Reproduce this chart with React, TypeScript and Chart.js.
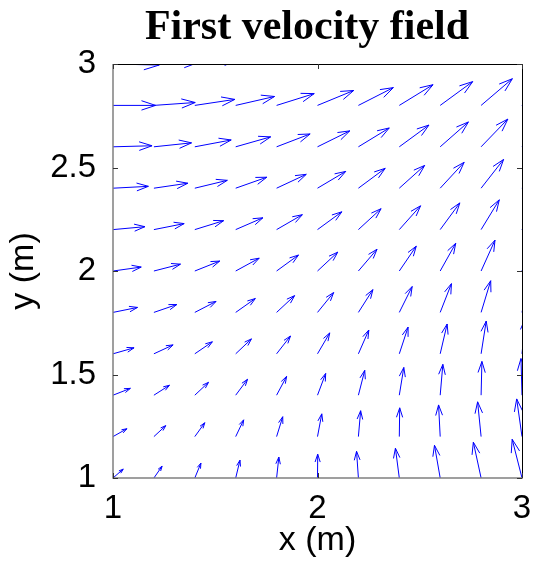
import { useEffect, useRef } from 'react';
import { Chart, registerables } from 'chart.js';

Chart.register(...registerables);

// Grid positions (m)
const X_VALUES = [1, 1.2, 1.4, 1.6, 1.8, 2, 2.2, 2.4, 2.6, 2.8, 3];
const Y_VALUES = [1, 1.2, 1.4, 1.6, 1.8, 2, 2.2, 2.4, 2.6, 2.8, 3];

// Velocity components, one row per y value (bottom row first), one column per x value
const U_ROWS = [
  [0.50, 0.40, 0.30, 0.21, 0.11, 0.01, -0.09, -0.19, -0.28, -0.38, -0.48],
  [0.68, 0.58, 0.49, 0.39, 0.30, 0.21, 0.11, 0.02, -0.08, -0.17, -0.26],
  [0.85, 0.76, 0.67, 0.58, 0.49, 0.40, 0.31, 0.22, 0.13, 0.04, -0.05],
  [1.03, 0.94, 0.86, 0.77, 0.68, 0.60, 0.51, 0.43, 0.34, 0.25, 0.17],
  [1.20, 1.12, 1.04, 0.96, 0.88, 0.79, 0.71, 0.63, 0.55, 0.47, 0.38],
  [1.38, 1.30, 1.22, 1.15, 1.07, 0.99, 0.91, 0.83, 0.76, 0.68, 0.60],
  [1.56, 1.48, 1.41, 1.33, 1.26, 1.19, 1.11, 1.04, 0.96, 0.89, 0.82],
  [1.73, 1.66, 1.59, 1.52, 1.45, 1.38, 1.31, 1.24, 1.17, 1.10, 1.03],
  [1.91, 1.84, 1.78, 1.71, 1.64, 1.58, 1.51, 1.45, 1.38, 1.31, 1.25],
  [2.08, 2.02, 1.96, 1.90, 1.84, 1.77, 1.71, 1.65, 1.59, 1.53, 1.46],
  [2.26, 2.20, 2.14, 2.09, 2.03, 1.97, 1.91, 1.85, 1.80, 1.74, 1.68],
];
const V_ROWS = [
  [0.43, 0.57, 0.72, 0.86, 1.01, 1.15, 1.29, 1.44, 1.58, 1.73, 1.87],
  [0.38, 0.53, 0.67, 0.81, 0.96, 1.10, 1.25, 1.39, 1.53, 1.68, 1.82],
  [0.33, 0.48, 0.62, 0.77, 0.91, 1.05, 1.20, 1.34, 1.49, 1.63, 1.77],
  [0.29, 0.43, 0.58, 0.72, 0.86, 1.01, 1.15, 1.29, 1.44, 1.58, 1.73],
  [0.24, 0.38, 0.53, 0.67, 0.81, 0.96, 1.10, 1.25, 1.39, 1.53, 1.68],
  [0.19, 0.33, 0.48, 0.62, 0.77, 0.91, 1.05, 1.20, 1.34, 1.49, 1.63],
  [0.14, 0.29, 0.43, 0.57, 0.72, 0.86, 1.01, 1.15, 1.29, 1.44, 1.58],
  [0.09, 0.24, 0.38, 0.53, 0.67, 0.81, 0.96, 1.10, 1.25, 1.39, 1.53],
  [0.05, 0.19, 0.33, 0.48, 0.62, 0.77, 0.91, 1.05, 1.20, 1.34, 1.49],
  [0.00, 0.14, 0.29, 0.43, 0.57, 0.72, 0.86, 1.00, 1.15, 1.29, 1.44],
  [-0.05, 0.09, 0.24, 0.38, 0.52, 0.67, 0.81, 0.96, 1.10, 1.25, 1.39],
];

const X_TICKS = [1, 2, 3];
const Y_TICKS = [1, 1.5, 2, 2.5, 3];

const TITLE = 'First velocity field';
const X_LABEL = 'x (m)';
const Y_LABEL = 'y (m)';

const ARROW_SCALE = 0.1;
const HEAD_ALPHA = 0.33;
const HEAD_BETA = 0.33;

const quiverPlugin = {
  id: 'quiver',
  afterDatasetsDraw(chart: any) {
    const { ctx, chartArea } = chart;
    const xs = chart.scales.x;
    const ys = chart.scales.y;
    ctx.save();
    ctx.beginPath();
    ctx.rect(chartArea.left, chartArea.top, chartArea.right - chartArea.left, chartArea.bottom - chartArea.top);
    ctx.clip();
    ctx.strokeStyle = 'rgb(0,0,255)';
    ctx.lineWidth = 1;
    for (let j = 0; j < Y_VALUES.length; j++) {
      for (let i = 0; i < X_VALUES.length; i++) {
        const x = X_VALUES[i];
        const y = Y_VALUES[j];
        const su = U_ROWS[j][i] * ARROW_SCALE;
        const sv = V_ROWS[j][i] * ARROW_SCALE;
        const xe = x + su;
        const ye = y + sv;
        const h1x = xe - HEAD_ALPHA * (su + HEAD_BETA * sv);
        const h1y = ye - HEAD_ALPHA * (sv - HEAD_BETA * su);
        const h2x = xe - HEAD_ALPHA * (su - HEAD_BETA * sv);
        const h2y = ye - HEAD_ALPHA * (sv + HEAD_BETA * su);
        ctx.beginPath();
        ctx.moveTo(xs.getPixelForValue(x), ys.getPixelForValue(y));
        ctx.lineTo(xs.getPixelForValue(xe), ys.getPixelForValue(ye));
        ctx.moveTo(xs.getPixelForValue(h1x), ys.getPixelForValue(h1y));
        ctx.lineTo(xs.getPixelForValue(xe), ys.getPixelForValue(ye));
        ctx.lineTo(xs.getPixelForValue(h2x), ys.getPixelForValue(h2y));
        ctx.stroke();
      }
    }
    ctx.restore();

    // axes box and inward ticks
    const L = Math.round(chartArea.left);
    const R = Math.round(chartArea.right);
    const T = Math.round(chartArea.top);
    const B = Math.round(chartArea.bottom);
    ctx.save();
    ctx.lineWidth = 1;
    ctx.strokeStyle = '#000';
    ctx.beginPath();
    ctx.moveTo(L, T + 0.5);
    ctx.lineTo(R + 0.5, T + 0.5);
    ctx.lineTo(R + 0.5, B);
    ctx.stroke();
    ctx.strokeStyle = '#808080';
    ctx.lineWidth = 1.5;
    ctx.beginPath();
    ctx.moveTo(L, T);
    ctx.lineTo(L, B);
    ctx.lineTo(R + 1, B);
    ctx.stroke();
    ctx.lineWidth = 1;
    ctx.strokeStyle = '#333';
    const tl = 5;
    ctx.beginPath();
    Y_TICKS.forEach((v) => {
      const py = Math.round(ys.getPixelForValue(v)) + 0.5;
      ctx.moveTo(L, py);
      ctx.lineTo(L + tl, py);
      ctx.moveTo(R, py);
      ctx.lineTo(R - tl, py);
    });
    X_TICKS.forEach((v) => {
      const px = Math.round(xs.getPixelForValue(v)) + 0.5;
      ctx.moveTo(px, B);
      ctx.lineTo(px, B - tl);
      ctx.moveTo(px, T);
      ctx.lineTo(px, T + tl);
    });
    ctx.stroke();

    // title
    ctx.fillStyle = '#000';
    ctx.font = 'bold 42px "Liberation Serif"';
    ctx.textAlign = 'center';
    ctx.textBaseline = 'alphabetic';
    ctx.fillText(TITLE, 307, 39);
    ctx.restore();
  },
};

export default function App() {
  const canvasRef = useRef<HTMLCanvasElement | null>(null);

  useEffect(() => {
    if (!canvasRef.current) return;
    const points: { x: number; y: number }[] = [];
    Y_VALUES.forEach((y) => X_VALUES.forEach((x) => points.push({ x, y })));

    const tickFont = { family: 'Liberation Sans', size: 33 };
    const chart = new Chart(canvasRef.current, {
      type: 'scatter',
      data: {
        datasets: [
          {
            label: 'grid',
            data: points,
            pointRadius: 0,
            pointHoverRadius: 0,
          },
        ],
      },
      options: {
        animation: false,
        responsive: false,
        devicePixelRatio: 1,
        events: [],
        layout: { padding: { top: 64, right: 12, left: 0, bottom: 0 } },
        plugins: {
          legend: { display: false },
          tooltip: { enabled: false },
          title: { display: false },
        },
        scales: {
          x: {
            type: 'linear',
            min: 1,
            max: 3,
            grid: { display: false },
            border: { display: false },
            afterBuildTicks: (axis: any) => {
              axis.ticks = X_TICKS.map((value) => ({ value }));
            },
            afterFit: (axis: any) => {
              axis.height = 83;
              axis.paddingLeft = 0;
              axis.paddingRight = 0;
            },
            ticks: {
              color: '#000',
              font: tickFont,
              padding: 3,
              maxRotation: 0,
              autoSkip: false,
              callback: (v: any) => String(v),
            },
            title: {
              display: true,
              text: X_LABEL,
              color: '#000',
              font: { family: 'Liberation Sans', size: 34 },
              padding: { top: 0, bottom: 0 },
            },
          },
          y: {
            type: 'linear',
            min: 1,
            max: 3,
            grid: { display: false },
            border: { display: false },
            afterBuildTicks: (axis: any) => {
              axis.ticks = Y_TICKS.map((value) => ({ value }));
            },
            afterFit: (axis: any) => {
              axis.width = 113;
              axis.paddingTop = 0;
              axis.paddingBottom = 0;
            },
            ticks: {
              color: '#000',
              font: tickFont,
              padding: 9,
              autoSkip: false,
              callback: (v: any) => String(v),
            },
            title: {
              display: true,
              text: Y_LABEL,
              color: '#000',
              font: { family: 'Liberation Sans', size: 34 },
              padding: { top: 3, bottom: 0 },
            },
          },
        },
      },
      plugins: [quiverPlugin],
    });
    return () => chart.destroy();
  }, []);

  return (
    <div style={{ position: 'fixed', left: 0, top: 0, width: 534, height: 561, background: '#fff' }}>
      <canvas ref={canvasRef} width={534} height={561} style={{ display: 'block' }} />
    </div>
  );
}
